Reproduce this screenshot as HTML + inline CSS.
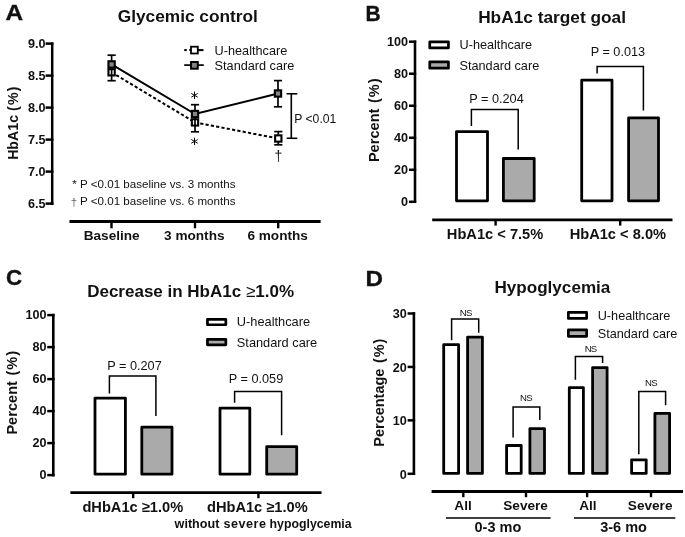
<!DOCTYPE html>
<html><head><meta charset="utf-8"><title>HbA1c figure</title>
<style>
html,body{margin:0;padding:0;background:#fff;}
svg{display:block;will-change:transform;}
text{font-family:"Liberation Sans", sans-serif;fill:#111;}
</style></head>
<body>
<svg width="685" height="537" viewBox="0 0 685 537">
<rect width="685" height="537" fill="#fff"/>
<text transform="translate(5.6,19.9) scale(1.07,1)" x="0" y="0" font-size="22.8" font-weight="bold" stroke="#111" stroke-width="0.35">A</text>
<text x="187.8" y="22.4" font-size="17.3" font-weight="bold" text-anchor="middle" >Glycemic control</text>
<line x1="52.2" y1="42.4" x2="52.2" y2="205" stroke="#000" stroke-width="2.5" />
<line x1="45.6" y1="43.6" x2="53.4" y2="43.6" stroke="#000" stroke-width="2.5" />
<text transform="translate(45.6,47.90) scale(0.93,1)" x="0" y="0" font-size="13.6" font-weight="bold" text-anchor="end">9.0</text>
<line x1="45.6" y1="75.6" x2="53.4" y2="75.6" stroke="#000" stroke-width="2.5" />
<text transform="translate(45.6,79.90) scale(0.93,1)" x="0" y="0" font-size="13.6" font-weight="bold" text-anchor="end">8.5</text>
<line x1="45.6" y1="107.6" x2="53.4" y2="107.6" stroke="#000" stroke-width="2.5" />
<text transform="translate(45.6,111.90) scale(0.93,1)" x="0" y="0" font-size="13.6" font-weight="bold" text-anchor="end">8.0</text>
<line x1="45.6" y1="139.6" x2="53.4" y2="139.6" stroke="#000" stroke-width="2.5" />
<text transform="translate(45.6,143.90) scale(0.93,1)" x="0" y="0" font-size="13.6" font-weight="bold" text-anchor="end">7.5</text>
<line x1="45.6" y1="171.6" x2="53.4" y2="171.6" stroke="#000" stroke-width="2.5" />
<text transform="translate(45.6,175.90) scale(0.93,1)" x="0" y="0" font-size="13.6" font-weight="bold" text-anchor="end">7.0</text>
<line x1="45.6" y1="203.6" x2="53.4" y2="203.6" stroke="#000" stroke-width="2.5" />
<text transform="translate(45.6,207.90) scale(0.93,1)" x="0" y="0" font-size="13.6" font-weight="bold" text-anchor="end">6.5</text>
<text transform="translate(17.8,123.2) rotate(-90)" x="0" y="0" font-size="14.2" font-weight="bold" text-anchor="middle" >HbA1c (<tspan dx="1.2">%</tspan><tspan dx="1.2">)</tspan></text>
<line x1="69.5" y1="221.5" x2="320.6" y2="221.5" stroke="#000" stroke-width="2.8" />
<line x1="111.5" y1="221.5" x2="111.5" y2="228.3" stroke="#000" stroke-width="2.4" />
<text x="111.7" y="239.7" font-size="13.6" font-weight="bold" text-anchor="middle" >Baseline</text>
<line x1="195" y1="221.5" x2="195" y2="228.3" stroke="#000" stroke-width="2.4" />
<text x="194.3" y="239.7" font-size="13.6" font-weight="bold" text-anchor="middle" >3 months</text>
<line x1="278.2" y1="221.5" x2="278.2" y2="228.3" stroke="#000" stroke-width="2.4" />
<text x="277.65" y="239.7" font-size="13.6" font-weight="bold" text-anchor="middle" >6 months</text>
<polyline points="111.6,72.3 195,122.4 278.3,138.5" fill="none" stroke="#000" stroke-width="2" stroke-dasharray="3.2 2.2"/>
<polyline points="111.6,64.4 195,114 278,93.5" fill="none" stroke="#000" stroke-width="2"/>
<rect x="108.45" y="69.15" width="6.30" height="6.30" fill="#fff" stroke="#000" stroke-width="2.1"/>
<line x1="111.6" y1="55.2" x2="111.6" y2="80.7" stroke="#000" stroke-width="1.7" />
<line x1="107.5" y1="55.2" x2="115.69999999999999" y2="55.2" stroke="#000" stroke-width="1.7" />
<line x1="107.5" y1="80.7" x2="115.69999999999999" y2="80.7" stroke="#000" stroke-width="1.7" />
<rect x="108.45" y="61.25" width="6.30" height="6.30" fill="#858585" stroke="#000" stroke-width="2.1"/>
<rect x="191.85" y="119.25" width="6.30" height="6.30" fill="#fff" stroke="#000" stroke-width="2.1"/>
<line x1="195" y1="104.7" x2="195" y2="131.8" stroke="#000" stroke-width="1.7" />
<line x1="190.9" y1="104.7" x2="199.1" y2="104.7" stroke="#000" stroke-width="1.7" />
<line x1="190.9" y1="131.8" x2="199.1" y2="131.8" stroke="#000" stroke-width="1.7" />
<rect x="191.85" y="110.85" width="6.30" height="6.30" fill="#858585" stroke="#000" stroke-width="2.1"/>
<line x1="278.3" y1="131.6" x2="278.3" y2="144.8" stroke="#000" stroke-width="1.7" />
<line x1="274.2" y1="131.6" x2="282.40000000000003" y2="131.6" stroke="#000" stroke-width="1.7" />
<line x1="274.2" y1="144.8" x2="282.40000000000003" y2="144.8" stroke="#000" stroke-width="1.7" />
<rect x="275.15" y="135.35" width="6.30" height="6.30" fill="#fff" stroke="#000" stroke-width="2.1"/>
<line x1="278" y1="80.6" x2="278" y2="106.8" stroke="#000" stroke-width="1.7" />
<line x1="273.9" y1="80.6" x2="282.1" y2="80.6" stroke="#000" stroke-width="1.7" />
<line x1="273.9" y1="106.8" x2="282.1" y2="106.8" stroke="#000" stroke-width="1.7" />
<rect x="274.85" y="90.35" width="6.30" height="6.30" fill="#858585" stroke="#000" stroke-width="2.1"/>
<line x1="194.5" y1="92.0" x2="194.5" y2="98.6" stroke="#000" stroke-width="1.0" stroke-linecap="round"/>
<line x1="191.64" y1="93.65" x2="197.36" y2="96.95" stroke="#000" stroke-width="1.0" stroke-linecap="round"/>
<line x1="197.36" y1="93.65" x2="191.64" y2="96.95" stroke="#000" stroke-width="1.0" stroke-linecap="round"/>
<line x1="194.5" y1="138.1" x2="194.5" y2="144.7" stroke="#000" stroke-width="1.0" stroke-linecap="round"/>
<line x1="191.64" y1="139.75" x2="197.36" y2="143.05" stroke="#000" stroke-width="1.0" stroke-linecap="round"/>
<line x1="197.36" y1="139.75" x2="191.64" y2="143.05" stroke="#000" stroke-width="1.0" stroke-linecap="round"/>
<text x="278.3" y="160.5" font-size="14" text-anchor="middle" >†</text>
<polyline points="286.5,93.8 291.3,93.8 291.3,138.3 286.7,138.3" fill="none" stroke="#000" stroke-width="1.6" />
<line x1="291.3" y1="93.8" x2="297.3" y2="93.8" stroke="#000" stroke-width="1.6" />
<line x1="291.3" y1="138.3" x2="297.3" y2="138.3" stroke="#000" stroke-width="1.6" />
<text x="294.2" y="122.7" font-size="12.2" text-anchor="start" >P &lt;0.01</text>
<line x1="184.2" y1="50.1" x2="186.8" y2="50.1" stroke="#000" stroke-width="2" />
<line x1="189.3" y1="50.1" x2="191" y2="50.1" stroke="#000" stroke-width="2" />
<line x1="198" y1="50.1" x2="203.5" y2="50.1" stroke="#000" stroke-width="2" />
<rect x="191.00" y="46.70" width="6.80" height="6.80" fill="#fff" stroke="#000" stroke-width="1.8"/>
<line x1="184.2" y1="65.1" x2="203.8" y2="65.1" stroke="#000" stroke-width="1.7" />
<rect x="191.05" y="62.00" width="6.70" height="6.70" fill="#858585" stroke="#000" stroke-width="2.0"/>
<text x="214.6" y="54.6" font-size="12.7" text-anchor="start" >U-healthcare</text>
<text x="214.6" y="69.5" font-size="12.7" text-anchor="start" >Standard care</text>
<text x="72.3" y="187.7" font-size="11.6" text-anchor="start" >* P &lt;0.01 baseline vs. 3 months</text>
<text x="80.0" y="205.2" font-size="11.6" text-anchor="start" >P &lt;0.01 baseline vs. 6 months</text>
<text x="74.0" y="205.8" font-size="11.6" text-anchor="middle" style="fill:#666">†</text>
<text transform="translate(365.4,20.8) scale(0.92,1)" x="0" y="0" font-size="22.8" font-weight="bold" stroke="#111" stroke-width="0.35">B</text>
<text x="552.1" y="22.9" font-size="17.3" font-weight="bold" text-anchor="middle" >HbA1c target goal</text>
<line x1="415" y1="40.5" x2="415" y2="202.8" stroke="#000" stroke-width="2.6" />
<line x1="409" y1="41.7" x2="416.2" y2="41.7" stroke="#000" stroke-width="2.5" />
<text transform="translate(408.1,45.90) scale(0.93,1)" x="0" y="0" font-size="13.6" font-weight="bold" text-anchor="end">100</text>
<line x1="409" y1="73.72" x2="416.2" y2="73.72" stroke="#000" stroke-width="2.5" />
<text transform="translate(408.1,77.92) scale(0.93,1)" x="0" y="0" font-size="13.6" font-weight="bold" text-anchor="end">80</text>
<line x1="409" y1="105.74000000000001" x2="416.2" y2="105.74000000000001" stroke="#000" stroke-width="2.5" />
<text transform="translate(408.1,109.94) scale(0.93,1)" x="0" y="0" font-size="13.6" font-weight="bold" text-anchor="end">60</text>
<line x1="409" y1="137.76" x2="416.2" y2="137.76" stroke="#000" stroke-width="2.5" />
<text transform="translate(408.1,141.96) scale(0.93,1)" x="0" y="0" font-size="13.6" font-weight="bold" text-anchor="end">40</text>
<line x1="409" y1="169.78000000000003" x2="416.2" y2="169.78000000000003" stroke="#000" stroke-width="2.5" />
<text transform="translate(408.1,173.98) scale(0.93,1)" x="0" y="0" font-size="13.6" font-weight="bold" text-anchor="end">20</text>
<line x1="409" y1="201.8" x2="416.2" y2="201.8" stroke="#000" stroke-width="2.5" />
<text transform="translate(408.1,206.00) scale(0.93,1)" x="0" y="0" font-size="13.6" font-weight="bold" text-anchor="end">0</text>
<text transform="translate(378.5,120.3) rotate(-90)" x="0" y="0" font-size="14.6" font-weight="bold" text-anchor="middle" >Percent <tspan dx="1.5">(</tspan><tspan dx="1">%</tspan><tspan dx="0.8">)</tspan></text>
<rect x="429.75" y="41.95" width="18.70" height="6.00" fill="#fff" stroke="#000" stroke-width="2.7" stroke-linejoin="round"/>
<rect x="429.75" y="61.85" width="18.70" height="6.30" fill="#aaaaaa" stroke="#000" stroke-width="2.7" stroke-linejoin="round"/>
<text x="459.5" y="49.0" font-size="12.7" text-anchor="start" >U-healthcare</text>
<text x="459.5" y="69.9" font-size="12.7" text-anchor="start" >Standard care</text>
<rect x="456.50" y="131.60" width="31.00" height="69.20" fill="#fff" stroke="#000" stroke-width="2.8" stroke-linejoin="round"/>
<rect x="503.40" y="158.50" width="30.80" height="42.30" fill="#aaaaaa" stroke="#000" stroke-width="2.8" stroke-linejoin="round"/>
<rect x="581.70" y="80.10" width="30.30" height="120.70" fill="#fff" stroke="#000" stroke-width="2.8" stroke-linejoin="round"/>
<rect x="628.60" y="117.90" width="29.90" height="82.90" fill="#aaaaaa" stroke="#000" stroke-width="2.8" stroke-linejoin="round"/>
<polyline points="471.4,126 471.4,109.5 518.2,109.5 518.2,149.5" fill="none" stroke="#000" stroke-width="1.5" />
<text x="496.5" y="102.9" font-size="12.7" text-anchor="middle" >P = 0.204</text>
<polyline points="597.1,73.5 597.1,66.5 643.4,66.5 643.4,110.6" fill="none" stroke="#000" stroke-width="1.5" />
<text x="617.9" y="55.6" font-size="12.7" text-anchor="middle" >P = 0.013</text>
<line x1="432.2" y1="219.8" x2="672.5" y2="219.8" stroke="#000" stroke-width="2.8" />
<line x1="495.6" y1="219.8" x2="495.6" y2="225.6" stroke="#000" stroke-width="2.4" />
<text x="495.05" y="239.2" font-size="14.65" font-weight="bold" text-anchor="middle" >HbA1c &lt; 7.5%</text>
<line x1="620.2" y1="219.8" x2="620.2" y2="225.6" stroke="#000" stroke-width="2.4" />
<text x="617.85" y="239.2" font-size="14.65" font-weight="bold" text-anchor="middle" >HbA1c &lt; 8.0%</text>
<text transform="translate(5.9,285.0) scale(0.98,1)" x="0" y="0" font-size="22.8" font-weight="bold" stroke="#111" stroke-width="0.35">C</text>
<text x="190.6" y="296.7" font-size="17" font-weight="bold" text-anchor="middle" >Decrease in HbA1c <tspan font-weight="normal">≥</tspan>1.0%</text>
<line x1="53.3" y1="313.8" x2="53.3" y2="476.4" stroke="#000" stroke-width="2.6" />
<line x1="47.2" y1="315.1" x2="54.5" y2="315.1" stroke="#000" stroke-width="2.5" />
<text transform="translate(46.5,319.10) scale(0.93,1)" x="0" y="0" font-size="13.6" font-weight="bold" text-anchor="end">100</text>
<line x1="47.2" y1="347.1" x2="54.5" y2="347.1" stroke="#000" stroke-width="2.5" />
<text transform="translate(46.5,351.10) scale(0.93,1)" x="0" y="0" font-size="13.6" font-weight="bold" text-anchor="end">80</text>
<line x1="47.2" y1="379.1" x2="54.5" y2="379.1" stroke="#000" stroke-width="2.5" />
<text transform="translate(46.5,383.10) scale(0.93,1)" x="0" y="0" font-size="13.6" font-weight="bold" text-anchor="end">60</text>
<line x1="47.2" y1="411.1" x2="54.5" y2="411.1" stroke="#000" stroke-width="2.5" />
<text transform="translate(46.5,415.10) scale(0.93,1)" x="0" y="0" font-size="13.6" font-weight="bold" text-anchor="end">40</text>
<line x1="47.2" y1="443.1" x2="54.5" y2="443.1" stroke="#000" stroke-width="2.5" />
<text transform="translate(46.5,447.10) scale(0.93,1)" x="0" y="0" font-size="13.6" font-weight="bold" text-anchor="end">20</text>
<line x1="47.2" y1="475.1" x2="54.5" y2="475.1" stroke="#000" stroke-width="2.5" />
<text transform="translate(46.5,479.10) scale(0.93,1)" x="0" y="0" font-size="13.6" font-weight="bold" text-anchor="end">0</text>
<text transform="translate(17.0,392.8) rotate(-90)" x="0" y="0" font-size="14.6" font-weight="bold" text-anchor="middle" >Percent <tspan dx="1.5">(</tspan><tspan dx="1">%</tspan><tspan dx="0.8">)</tspan></text>
<rect x="207.45" y="319.45" width="18.40" height="5.30" fill="#fff" stroke="#000" stroke-width="2.7" stroke-linejoin="round"/>
<rect x="207.45" y="339.35" width="18.40" height="5.50" fill="#aaaaaa" stroke="#000" stroke-width="2.7" stroke-linejoin="round"/>
<text x="236.8" y="326.2" font-size="12.8" text-anchor="start" >U-healthcare</text>
<text x="236.8" y="347.2" font-size="12.8" text-anchor="start" >Standard care</text>
<rect x="95.00" y="398.10" width="30.40" height="76.10" fill="#fff" stroke="#000" stroke-width="2.8" stroke-linejoin="round"/>
<rect x="141.80" y="427.20" width="30.20" height="47.00" fill="#aaaaaa" stroke="#000" stroke-width="2.8" stroke-linejoin="round"/>
<rect x="220.00" y="408.10" width="29.80" height="66.10" fill="#fff" stroke="#000" stroke-width="2.8" stroke-linejoin="round"/>
<rect x="266.70" y="446.60" width="30.00" height="27.60" fill="#aaaaaa" stroke="#000" stroke-width="2.8" stroke-linejoin="round"/>
<polyline points="109.4,393.6 109.4,376.1 155.9,376.1 155.9,416.0" fill="none" stroke="#000" stroke-width="1.5" />
<text x="134.5" y="369.6" font-size="12.7" text-anchor="middle" >P = 0.207</text>
<polyline points="234.6,402.8 234.6,391.5 281.6,391.5 281.6,435.2" fill="none" stroke="#000" stroke-width="1.5" />
<text x="256.0" y="382.6" font-size="12.7" text-anchor="middle" >P = 0.059</text>
<line x1="70.4" y1="492.6" x2="321.5" y2="492.6" stroke="#000" stroke-width="2.8" />
<line x1="133.2" y1="492.6" x2="133.2" y2="498.2" stroke="#000" stroke-width="2.4" />
<line x1="258.4" y1="492.6" x2="258.4" y2="498.2" stroke="#000" stroke-width="2.4" />
<text x="132.8" y="512" font-size="14.65" font-weight="bold" text-anchor="middle" >dHbA1c ≥1.0%</text>
<text x="257.35" y="512" font-size="14.65" font-weight="bold" text-anchor="middle" >dHbA1c ≥1.0%</text>
<text x="174.6" y="527.5" font-size="12.6" font-weight="bold" text-anchor="start" >without</text>
<text x="223.6" y="527.5" font-size="12.6" font-weight="bold" text-anchor="start" letter-spacing="0.5">severe</text>
<text x="269.6" y="527.5" font-size="12.3" font-weight="bold" text-anchor="start" >hypoglycemia</text>
<text transform="translate(365.6,286.1) scale(1.06,1)" x="0" y="0" font-size="22.8" font-weight="bold" stroke="#111" stroke-width="0.35">D</text>
<text x="552.4" y="292.5" font-size="17.1" font-weight="bold" text-anchor="middle" >Hypoglycemia</text>
<line x1="413.9" y1="312.2" x2="413.9" y2="475.0" stroke="#000" stroke-width="2.6" />
<line x1="407.6" y1="313.5" x2="415.1" y2="313.5" stroke="#000" stroke-width="2.5" />
<text transform="translate(406.8,318.30) scale(0.93,1)" x="0" y="0" font-size="13.6" font-weight="bold" text-anchor="end">30</text>
<line x1="407.6" y1="366.93" x2="415.1" y2="366.93" stroke="#000" stroke-width="2.5" />
<text transform="translate(406.8,371.73) scale(0.93,1)" x="0" y="0" font-size="13.6" font-weight="bold" text-anchor="end">20</text>
<line x1="407.6" y1="420.36" x2="415.1" y2="420.36" stroke="#000" stroke-width="2.5" />
<text transform="translate(406.8,425.16) scale(0.93,1)" x="0" y="0" font-size="13.6" font-weight="bold" text-anchor="end">10</text>
<line x1="407.6" y1="473.78999999999996" x2="415.1" y2="473.78999999999996" stroke="#000" stroke-width="2.5" />
<text transform="translate(406.8,478.59) scale(0.93,1)" x="0" y="0" font-size="13.6" font-weight="bold" text-anchor="end">0</text>
<text transform="translate(384.0,392.7) rotate(-90)" x="0" y="0" font-size="14.5" font-weight="bold" text-anchor="middle" >Percentage <tspan dx="1.5">(</tspan><tspan dx="1">%</tspan><tspan dx="0.8">)</tspan></text>
<rect x="568.35" y="312.35" width="18.30" height="6.10" fill="#fff" stroke="#000" stroke-width="2.7" stroke-linejoin="round"/>
<rect x="568.35" y="329.95" width="18.30" height="6.40" fill="#aaaaaa" stroke="#000" stroke-width="2.7" stroke-linejoin="round"/>
<text x="597.7" y="319.5" font-size="12.7" text-anchor="start" >U-healthcare</text>
<text x="597.7" y="337.5" font-size="12.7" text-anchor="start" >Standard care</text>
<rect x="443.70" y="344.70" width="14.90" height="128.70" fill="#fff" stroke="#000" stroke-width="2.8" stroke-linejoin="round"/>
<rect x="467.60" y="337.10" width="14.80" height="136.30" fill="#aaaaaa" stroke="#000" stroke-width="2.8" stroke-linejoin="round"/>
<rect x="506.60" y="445.50" width="14.60" height="27.90" fill="#fff" stroke="#000" stroke-width="2.8" stroke-linejoin="round"/>
<rect x="529.90" y="428.60" width="14.60" height="44.80" fill="#aaaaaa" stroke="#000" stroke-width="2.8" stroke-linejoin="round"/>
<rect x="569.30" y="387.70" width="14.10" height="85.70" fill="#fff" stroke="#000" stroke-width="2.8" stroke-linejoin="round"/>
<rect x="592.60" y="367.60" width="14.50" height="105.80" fill="#aaaaaa" stroke="#000" stroke-width="2.8" stroke-linejoin="round"/>
<rect x="631.60" y="459.80" width="14.60" height="13.60" fill="#fff" stroke="#000" stroke-width="2.8" stroke-linejoin="round"/>
<rect x="654.90" y="413.40" width="14.70" height="60.00" fill="#aaaaaa" stroke="#000" stroke-width="2.8" stroke-linejoin="round"/>
<polyline points="451.6,340.2 451.6,319.0 478.7,319.0 478.7,332.8" fill="none" stroke="#000" stroke-width="1.5" />
<polyline points="513.1,437.6 513.1,407.0 539.8,407.0 539.8,419.9" fill="none" stroke="#000" stroke-width="1.5" />
<polyline points="575.4,379.8 575.4,356.6 602.6,356.6 602.6,363.0" fill="none" stroke="#000" stroke-width="1.5" />
<polyline points="638.8,454.2 638.8,391.4 665.6,391.4 665.6,405.3" fill="none" stroke="#000" stroke-width="1.5" />
<text x="465.8" y="316.0" font-size="9.6" text-anchor="middle" letter-spacing="-0.7">NS</text>
<text x="526" y="400.59999999999997" font-size="9.6" text-anchor="middle" letter-spacing="-0.7">NS</text>
<text x="590.6" y="352.2" font-size="9.6" text-anchor="middle" letter-spacing="-0.7">NS</text>
<text x="651" y="385.9" font-size="9.6" text-anchor="middle" letter-spacing="-0.7">NS</text>
<line x1="431.6" y1="491.5" x2="683" y2="491.5" stroke="#000" stroke-width="2.8" />
<line x1="463.3" y1="491.5" x2="463.3" y2="497.2" stroke="#000" stroke-width="2.4" />
<text x="463.05" y="510.0" font-size="13.6" font-weight="bold" text-anchor="middle" >All</text>
<line x1="526" y1="491.5" x2="526" y2="497.2" stroke="#000" stroke-width="2.4" />
<text x="525.6" y="510.0" font-size="13.6" font-weight="bold" text-anchor="middle" >Severe</text>
<line x1="587.1" y1="491.5" x2="587.1" y2="497.2" stroke="#000" stroke-width="2.4" />
<text x="587.9" y="510.0" font-size="13.6" font-weight="bold" text-anchor="middle" >All</text>
<line x1="651" y1="491.5" x2="651" y2="497.2" stroke="#000" stroke-width="2.4" />
<text x="650.15" y="510.0" font-size="13.6" font-weight="bold" text-anchor="middle" >Severe</text>
<line x1="445.9" y1="518" x2="550.6" y2="518" stroke="#000" stroke-width="1.5" />
<line x1="574" y1="518" x2="675.3" y2="518" stroke="#000" stroke-width="1.5" />
<text x="497.9" y="532" font-size="14.5" font-weight="bold" text-anchor="middle" >0-3 mo</text>
<text x="623.55" y="532" font-size="14.5" font-weight="bold" text-anchor="middle" >3-6 mo</text>
</svg>
</body></html>
